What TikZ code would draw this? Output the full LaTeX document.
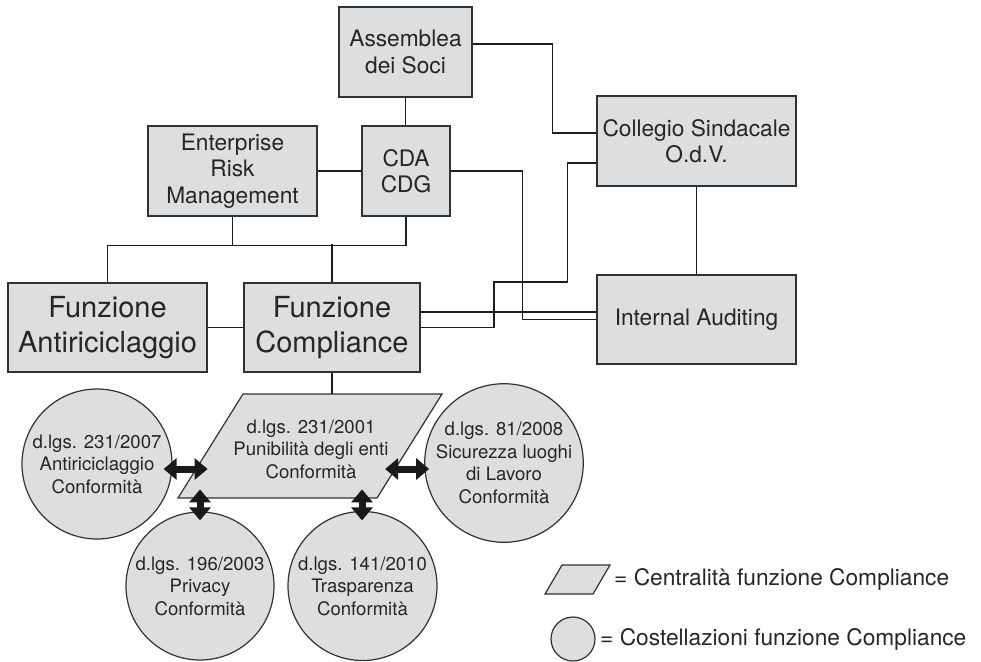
\documentclass[tikz,border=0pt]{standalone}
\usepackage{fontspec}
\setmainfont{TeX Gyre Heros}
\usetikzlibrary{arrows.meta,calc}
\definecolor{boxfill}{RGB}{221,222,224}
\definecolor{edgec}{RGB}{50,50,50}
\definecolor{linec}{RGB}{30,30,30}
\newcommand\fbig{\fontsize{29pt}{35pt}\selectfont}
\newcommand\fmed{\fontsize{22.7pt}{26.5pt}\selectfont}
\newcommand\fsml{\fontsize{18.6pt}{22.5pt}\selectfont}
\tikzset{
  orgbox/.style={draw=edgec, fill=boxfill, line width=1.3pt, inner sep=0pt, align=center, font=\fmed, text=black!85},
  bigbox/.style={orgbox, font=\fbig},
  normcirc/.style={circle, draw=edgec, fill=boxfill, line width=1.2pt, inner sep=0pt, align=center, font=\fsml, text=black!85},
  conn/.style={draw=linec, line width=1.2pt},
  dbl/.style={draw=black!90, line width=7pt, {Triangle[length=13pt 0 0,width=21pt 0 0]}-{Triangle[length=13pt 0 0,width=21pt 0 0]}},
  legtext/.style={anchor=west, inner sep=0pt, font=\fmed, text=black!85}
}
\begin{document}
\begin{tikzpicture}[x=1pt,y=-1pt]
\useasboundingbox (0,0) rectangle (981,661);
% boxes
\node[orgbox, minimum width=133pt, minimum height=90pt] (asm) at (405.5,52) {Assemblea\\dei Soci};
\node[orgbox, minimum width=88pt, minimum height=90pt] (cda) at (406,171) {CDA\\CDG};
\node[orgbox, minimum width=169pt, minimum height=90pt] (erm) at (232.5,171) {Enterprise\\Risk\\Management};
\node[orgbox, minimum width=199pt, minimum height=90pt] (col) at (696.5,141) {Collegio Sindacale\\O.d.V.};
\node[orgbox, minimum width=199pt, minimum height=89pt] (ia) at (696.5,319.5) {Internal Auditing};
\node[bigbox, minimum width=199pt, minimum height=89pt] (anti) at (107.5,327.5) {Funzione\\Antiriciclaggio};
\node[bigbox, minimum width=176pt, minimum height=89pt] (comp) at (332,327.5) {Funzione\\Compliance};
% connectors
\draw[conn] ([yshift=8pt]asm.east) -| ([xshift=-44pt,yshift=8pt]col.west) -- ([yshift=8pt]col.west);
\draw[conn] (asm.south) -- (asm.south |- cda.north);
\draw[conn] (erm.east) -- (cda.west);
\draw[conn] (cda.south) -- ++(0,29) -| (anti.north);
\draw[conn] (erm.south) -- ++(0,29);
\draw[conn] (comp.north) -- ++(0,-38);
\draw[conn] (anti.east) -- (comp.west);
\draw[conn] (col.south) -- (col.south |- ia.north);
\draw[conn] ([yshift=15.5pt]comp.east) -- ([yshift=7.5pt]ia.west);
\draw[conn] (cda.east) -| ([xshift=-74pt]ia.west) -- (ia.west);
\coordinate (k1) at (494,282);
\draw[conn] ([yshift=-22pt]col.west) -- ++(-29,0) |- (k1) |- (comp.east);
% central parallelogram
\coordinate (pBL) at (178,498);
\coordinate (pTL) at (243,394);
\coordinate (pTR) at (442,394);
\coordinate (pBR) at (377,498);
\draw[draw=edgec, fill=boxfill, line width=1.2pt] (pBL) -- (pTL) -- (pTR) -- (pBR) -- cycle;
\node[align=center, font=\fsml, text=black!85, inner sep=0pt] (para) at (311,449) {d.lgs. 231/2001\\Punibilità degli enti\\Conformità};
\draw[conn] (comp.south) -- (comp.south |- pTL);
% circles
\node[normcirc, minimum size=150pt] (c1) at (97,464) {d.lgs. 231/2007\\Antiriciclaggio\\Conformità};
\node[normcirc, minimum size=148pt] (c2) at (200,586) {d.lgs. 196/2003\\Privacy\\Conformità};
\node[normcirc, minimum size=149pt] (c3) at (362.5,586) {d.lgs. 141/2010\\Trasparenza\\Conformità};
\node[normcirc, minimum size=146pt] (c4) at (504,463) {d.lgs. 81/2008\\Sicurezza luoghi\\di Lavoro\\Conformità};
% double arrows
\draw[dbl] ([xshift=-9pt,yshift=-5pt]c1.east) -- ++(44,0);
\draw[dbl] ([xshift=5pt,yshift=-6pt]c4.west) -- ++(-44,0);
\draw[dbl] ([yshift=-9pt]c2.north) -- ++(0,-31);
\draw[dbl] ([xshift=-0.5pt,yshift=-9.5pt]c3.north) -- ++(0,-31);
% legend
\coordinate (lBL) at (545,594);
\coordinate (lTL) at (562,565);
\coordinate (lTR) at (610,565);
\coordinate (lBR) at (593,594);
\draw[draw=edgec, fill=boxfill, line width=1.2pt] (lBL) -- (lTL) -- (lTR) -- (lBR) -- cycle;
\node[legtext] (lg1) at (614,579.5) {= Centralità funzione Compliance};
\node[normcirc, minimum size=44pt] (lc) at (573,639) {};
\node[legtext] (lg2) at (600,639) {= Costellazioni funzione Compliance};
\end{tikzpicture}
\end{document}
